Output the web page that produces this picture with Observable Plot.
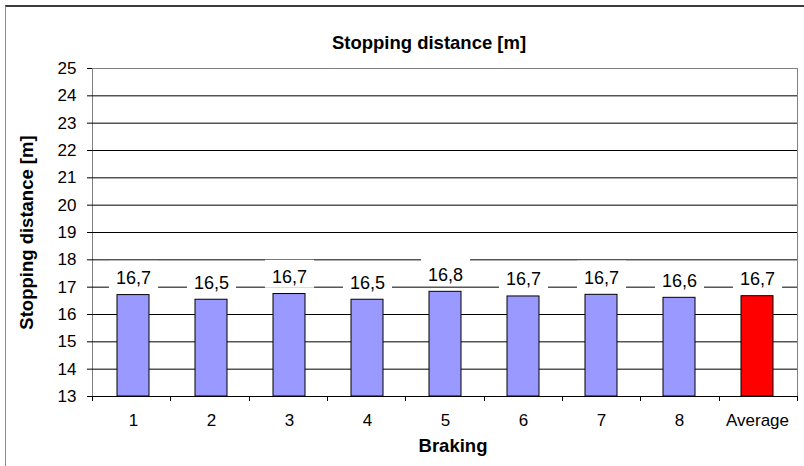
<!DOCTYPE html>
<html>
<head>
<meta charset="utf-8">
<script src="https://cdn.jsdelivr.net/npm/d3@7"></script>
<script src="https://cdn.jsdelivr.net/npm/@observablehq/plot@0.6"></script>
<style>
  html, body { margin: 0; padding: 0; background: #fff; }
  #wrap { position: relative; width: 804px; height: 466px; overflow: hidden; }
  #frame { position: absolute; left: 5px; top: 5px; width: 820px; height: 480px;
           border-left: 1px solid #8c8c8c; border-top: 2px solid #3c3c3c; box-sizing: border-box; }
  #chart { position: absolute; left: 0; top: 0; }
  #chart svg text { font-family: "Liberation Sans", Arial, sans-serif; }
</style>
</head>
<body>
<div id="wrap"><div id="frame"></div><div id="chart"></div></div>
<script>
// ---- data ----
const categories = ["1", "2", "3", "4", "5", "6", "7", "8", "Average"];
const values = [16.71, 16.54, 16.749, 16.54, 16.83, 16.66, 16.72, 16.61, 16.67];
const barColors = ["#9999FF", "#9999FF", "#9999FF", "#9999FF", "#9999FF", "#9999FF", "#9999FF", "#9999FF", "#FF0000"];
const yTicks = [13, 14, 15, 16, 17, 18, 19, 20, 21, 22, 23, 24, 25];
const titleText = "Stopping distance [m]";
const yLabelText = "Stopping distance [m]";
const xLabelText = "Braking";

const data = categories.map((c, i) => ({cat: c, value: values[i], color: barColors[i]}));
const fmtComma = v => d3.format(".1f")(v).replace(".", ",");
const yMin = yTicks[0], yMax = yTicks[yTicks.length - 1];

const chart = Plot.plot({
  width: 804,
  height: 466,
  marginLeft: 92,
  marginRight: 7,
  marginTop: 68,
  marginBottom: 70,
  style: {fontSize: "17px", fontFamily: "Liberation Sans, Arial, sans-serif", background: "transparent", overflow: "visible"},
  x: {type: "band", domain: categories, paddingInner: 0.59, paddingOuter: 0.295, label: null, tickSize: 0, tickPadding: 17},
  y: {domain: [yMin, yMax], ticks: yTicks, tickFormat: d => String(d), label: null, tickSize: 5, tickPadding: 11, line: true},
  marks: [
    Plot.frame({stroke: "#808080"}),
    Plot.ruleY(yTicks.filter(t => t !== yMax), {stroke: "#000", strokeWidth: 1}),
    Plot.barY(data, {x: "cat", y1: () => yMin, y2: "value", fill: "color", stroke: "#000", strokeWidth: 1}),
    Plot.text(data, {x: "cat", y: "value", text: d => fmtComma(d.value), dy: -17, fontSize: 18, fill: "#000"}),
    Plot.text([titleText], {frameAnchor: "top", textAnchor: "middle", lineAnchor: "middle", dy: -25, dx: -16, fontSize: 18.5, fontWeight: "bold", fill: "#000"}),
    Plot.text([yLabelText], {frameAnchor: "left", textAnchor: "middle", lineAnchor: "middle", rotate: -90, dx: -65, fontSize: 18.5, fontWeight: "bold", fill: "#000"}),
    Plot.text([xLabelText], {frameAnchor: "bottom", textAnchor: "middle", lineAnchor: "middle", dy: 50, dx: 8, fontSize: 18.5, fontWeight: "bold", fill: "#000"})
  ]
});

document.getElementById("chart").appendChild(chart);

// white boxes behind the value labels
const svg = d3.select(chart);
svg.selectAll("text").filter(function () { return /^\d+,\d$/.test(this.textContent); }).each(function () {
  const bb = this.getBBox();
  const r = document.createElementNS("http://www.w3.org/2000/svg", "rect");
  r.setAttribute("x", bb.x - 7);
  r.setAttribute("y", bb.y - 7);
  r.setAttribute("width", bb.width + 14);
  r.setAttribute("height", bb.height + 8);
  r.setAttribute("fill", "#fff");
  const t = this.getAttribute("transform");
  if (t) r.setAttribute("transform", t);
  this.parentNode.insertBefore(r, this);
});

// category-boundary tick marks on the x axis (Excel style)
const xs = chart.scale("x");
const y0 = chart.scale("y").apply(yMin);
const [r0, r1] = xs.range;
const step = (r1 - r0) / categories.length;
const tg = svg.append("g").attr("stroke", "#000");
for (let i = 0; i <= categories.length; i++) {
  const px = Math.round(r0 + i * step) + 0.5;
  tg.append("line").attr("x1", px).attr("x2", px).attr("y1", y0).attr("y2", y0 + 5);
}
</script>
</body>
</html>
